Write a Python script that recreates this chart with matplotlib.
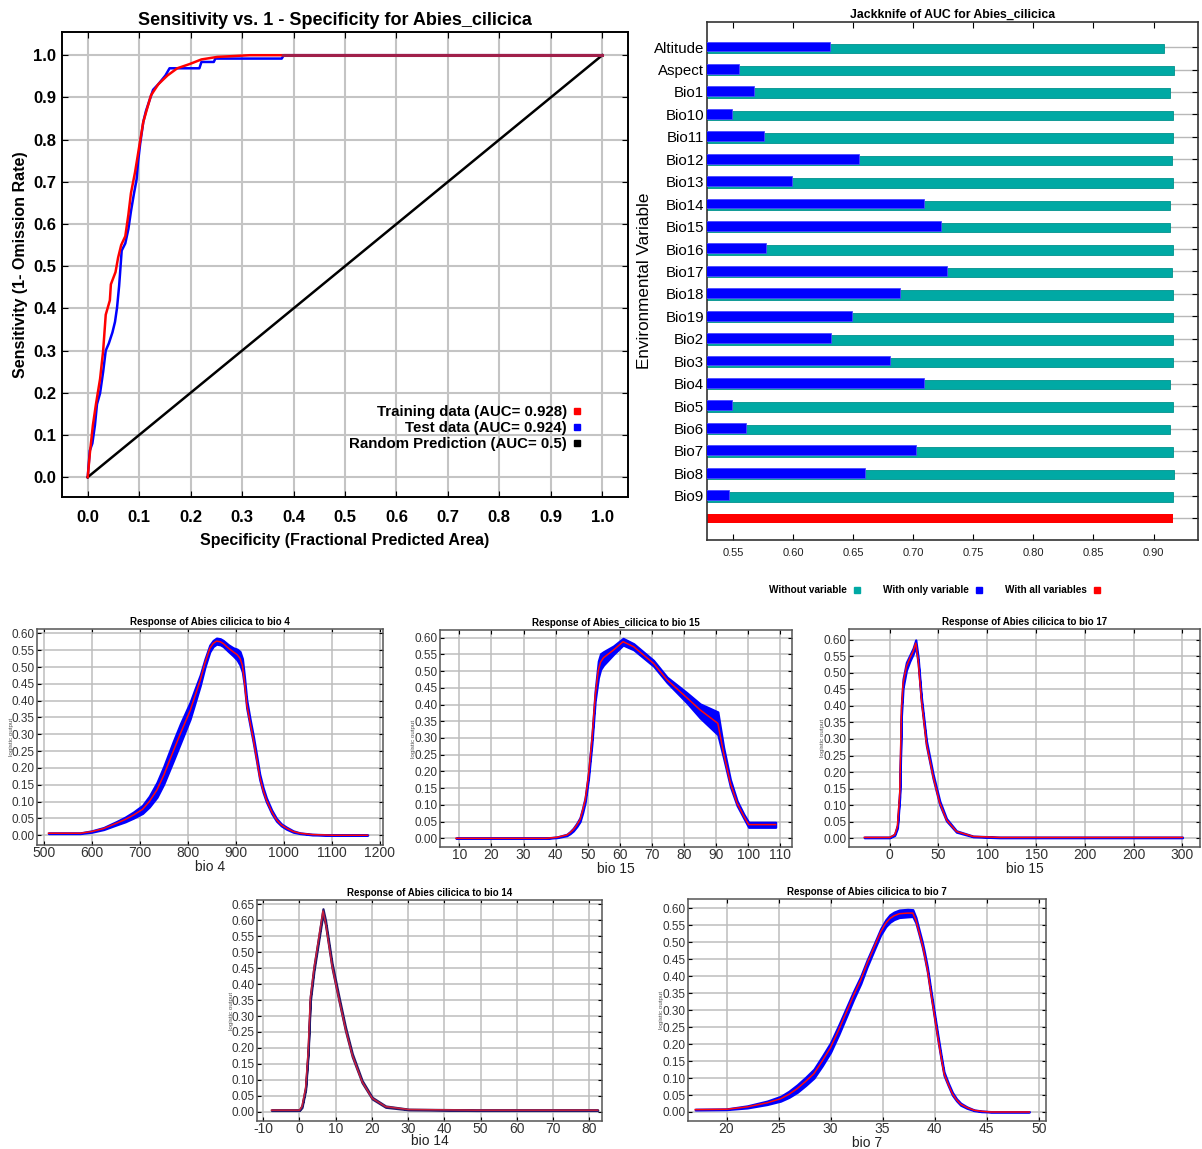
import numpy as np
import matplotlib
matplotlib.use('Agg')
import matplotlib.pyplot as plt
from matplotlib.lines import Line2D

plt.rcParams['font.family'] = ['Liberation Sans', 'DejaVu Sans']

W, H = 1202, 1149

# ROC curves (fractional predicted area, sensitivity)
train_x = [0, 0.004, 0.010, 0.016, 0.024, 0.030, 0.035, 0.043, 0.045, 0.054, 0.059, 0.065, 0.073,
           0.079, 0.084, 0.092, 0.100, 0.108, 0.116, 0.123, 0.137, 0.155, 0.174, 0.198, 0.221,
           0.252, 0.284, 0.315, 1.0]
train_y = [0, 0.055, 0.123, 0.173, 0.233, 0.300, 0.385, 0.419, 0.457, 0.486, 0.520, 0.550, 0.571,
           0.622, 0.673, 0.723, 0.783, 0.842, 0.876, 0.905, 0.931, 0.952, 0.969, 0.979, 0.990,
           0.996, 0.998, 1.0, 1.0]
test_x = [0, 0.004, 0.009, 0.014, 0.018, 0.024, 0.030, 0.035, 0.041, 0.048, 0.053, 0.057, 0.061,
          0.063, 0.066, 0.073, 0.079, 0.084, 0.090, 0.095, 0.098, 0.102, 0.108, 0.113, 0.120,
          0.127, 0.137, 0.151, 0.159, 0.174, 0.217, 0.221, 0.245, 0.248, 0.377, 0.381, 1.0]
test_y = [0, 0.063, 0.080, 0.123, 0.173, 0.199, 0.250, 0.300, 0.317, 0.343, 0.368, 0.402, 0.453,
          0.486, 0.537, 0.554, 0.588, 0.630, 0.673, 0.706, 0.749, 0.791, 0.842, 0.867, 0.893,
          0.918, 0.931, 0.952, 0.969, 0.969, 0.969, 0.984, 0.984, 0.992, 0.992, 1.0, 1.0]
auc_train, auc_test, auc_random = 0.928, 0.924, 0.5

# jackknife of AUC
variables = ['Altitude', 'Aspect', 'Bio1', 'Bio10', 'Bio11', 'Bio12', 'Bio13', 'Bio14', 'Bio15',
             'Bio16', 'Bio17', 'Bio18', 'Bio19', 'Bio2', 'Bio3', 'Bio4', 'Bio5', 'Bio6', 'Bio7',
             'Bio8', 'Bio9']
auc_without = [0.9085, 0.917, 0.914, 0.9165, 0.9165, 0.915, 0.916, 0.914, 0.914, 0.916, 0.915,
               0.916, 0.916, 0.9165, 0.9165, 0.914, 0.916, 0.914, 0.916, 0.917, 0.9165]
auc_only = [0.6305, 0.555, 0.568, 0.549, 0.576, 0.655, 0.599, 0.709, 0.723, 0.578, 0.728,
            0.689, 0.649, 0.632, 0.6805, 0.709, 0.549, 0.561, 0.702, 0.660, 0.5467]
auc_all = 0.9165

# response curves: mean and min/max band
bio4_x = [510, 576, 600, 625, 652, 670, 687, 706, 720, 736, 750, 770, 785, 805, 815, 826, 836, 846,
          853, 860, 868, 874, 885, 895, 903, 909, 914, 918, 923, 930, 937, 944, 950, 957, 964, 975,
          985, 995, 1006, 1020, 1034, 1060, 1103, 1175]
bio4_mean = [.006, .006, .011, .020, .036, .047, .060, .077, .100, .135, .178, .250, .303, .370,
             .413, .460, .512, .555, .570, .577, .575, .570, .556, .545, .537, .526, .505, .460,
             .390, .335, .283, .225, .174, .135, .105, .070, .046, .031, .021, .011, .006, .002,
             .000, .000]
bio4_lo = [.005, .005, .009, .017, .031, .040, .051, .065, .084, .113, .152, .221, .274, .345, .392,
           .444, .500, .545, .561, .568, .566, .561, .546, .533, .521, .506, .485, .446, .378, .325,
           .273, .216, .166, .128, .099, .065, .042, .028, .018, .009, .005, .001, .000, .000]
bio4_hi = [.007, .007, .013, .023, .041, .054, .069, .089, .116, .157, .204, .279, .332, .395, .434,
           .476, .524, .565, .579, .586, .584, .579, .566, .557, .553, .546, .525, .474, .402, .345,
           .293, .234, .182, .142, .111, .075, .050, .034, .024, .013, .007, .003, .001, .001]

bio15_x = [9, 37, 40.4, 43.5, 44.5, 45.5, 46.6, 47.6, 48.4, 49.2, 50.2, 51.3, 52.3, 53.3, 54.0,
           54.9, 58, 61, 64.3, 70.5, 74.7, 80.9, 85, 90.5, 92.3, 94.4, 96.5, 98.6, 100.1, 108.5]
bio15_mean = [0, 0, .003, .010, .017, .026, .040, .056, .083, .115, .185, .295, .424, .503, .527,
              .540, .563, .588, .573, .523, .474, .420, .384, .344, .255, .165, .105, .066, .041,
              .041]
bio15_lo = [0, 0, .002, .008, .014, .022, .035, .050, .076, .108, .176, .283, .410, .480, .505,
            .518, .550, .578, .564, .515, .466, .405, .360, .310, .240, .155, .098, .060, .033,
            .033]
bio15_hi = [.001, .001, .004, .012, .020, .030, .045, .062, .090, .122, .194, .307, .440, .530,
            .552, .558, .575, .598, .582, .532, .482, .435, .402, .378, .272, .176, .112, .072,
            .048, .048]

bio17_x = [-26, 0, 5.1, 7.9, 10.3, 12, 13.7, 17.1, 20.5, 24, 26.7, 29.1, 32.5, 37.6, 44.5, 51.3,
           58.2, 68.4, 85.5, 113, 300]
bio17_mean = [.002, .002, .010, .035, .136, .388, .469, .519, .544, .565, .590, .539, .418, .287,
              .186, .106, .055, .020, .005, .002, .002]
bio17_lo = [.001, .001, .008, .030, .125, .370, .455, .508, .535, .557, .580, .530, .410, .280,
            .180, .101, .052, .018, .004, .001, .001]
bio17_hi = [.003, .003, .012, .040, .148, .405, .482, .532, .553, .575, .600, .548, .426, .295,
            .193, .112, .059, .022, .006, .003, .003]

bio14_x = [-7.7, 0, 0.7, 1.7, 2.4, 3.0, 4.0, 5.3, 6.5, 7.2, 9.0, 10.9, 12.7, 14.6, 17.3, 20.1,
           23.8, 30.2, 48.7, 82.3]
bio14_mean = [.005, .005, .016, .073, .187, .354, .447, .541, .629, .593, .458, .354, .260, .177,
              .094, .042, .016, .007, .005, .005]
bio14_lo = [.004, .004, .013, .068, .180, .345, .440, .534, .620, .586, .451, .348, .254, .172,
            .091, .040, .014, .006, .004, .004]
bio14_hi = [.006, .006, .019, .078, .194, .362, .455, .548, .636, .600, .466, .361, .266, .182,
            .098, .045, .018, .008, .006, .006]

bio7_x = [17.0, 20, 22, 23.9, 25.2, 26.0, 26.8, 27.6, 28.4, 29.2, 30.0, 30.8, 31.6, 32.2, 32.9,
          33.5, 34.2, 34.8, 35.3, 35.7, 36.1, 36.6, 37.4, 37.9, 38.2, 38.5, 38.8, 39.0, 39.3, 39.6,
          39.9, 40.3, 40.6, 40.9, 41.3, 41.7, 42.1, 42.5, 43.1, 43.8, 44.5, 45.4, 49.1]
bio7_mean = [.007, .008, .015, .027, .039, .052, .069, .090, .113, .150, .190, .243, .300, .343,
             .389, .437, .487, .530, .556, .570, .578, .584, .586, .586, .565, .530, .495, .467,
             .420, .359, .300, .221, .165, .113, .082, .054, .036, .023, .013, .005, .002, .000,
             .000]
bio7_lo = [.006, .007, .012, .022, .032, .043, .058, .078, .100, .136, .176, .229, .287, .331, .378,
           .427, .478, .521, .546, .559, .567, .573, .575, .576, .557, .523, .488, .460, .413, .352,
           .293, .214, .159, .108, .078, .050, .033, .020, .011, .004, .001, .000, .000]
bio7_hi = [.008, .009, .018, .032, .046, .061, .080, .102, .126, .164, .204, .257, .313, .355, .400,
           .447, .496, .539, .566, .581, .589, .595, .597, .596, .573, .537, .502, .474, .427, .366,
           .307, .228, .171, .118, .086, .058, .039, .026, .015, .006, .003, .001, .001]


def box(l, t, r, b):
    return [l / W, 1 - b / H, (r - l) / W, (b - t) / H]


fig = plt.figure(figsize=(W / 100, H / 100), dpi=100)

# ---- ROC ----
ax = fig.add_axes(box(62, 32, 628, 497))
ax.plot(train_x, train_y, color='#ff0000', lw=1.8, zorder=3)
ax.plot(test_x, test_y, color='#0000ff', lw=1.8, zorder=2)
ax.plot([0, 1], [0, 1], color='black', lw=1.8, zorder=2)
ax.plot([0.38, 1.0], [1.0, 1.0], color='#a0204a', lw=2.2, zorder=4)
ax.set_xlim(-0.05, 1.05)
ax.set_ylim(-0.047, 1.055)
ticks = np.round(np.arange(0, 1.01, 0.1), 1)
ax.set_xticks(ticks)
ax.set_yticks(ticks)
ax.set_xticklabels(['%.1f' % t for t in ticks], fontsize=12, fontweight='bold')
ax.set_yticklabels(['%.1f' % t for t in ticks], fontsize=12, fontweight='bold')
ax.tick_params(direction='in', length=4, top=True, right=True)
ax.tick_params(axis='x', pad=9)
ax.tick_params(axis='y', pad=4)
ax.grid(True, color='#c4c4c4', lw=1.5)
ax.set_axisbelow(True)
for s in ax.spines.values():
    s.set_linewidth(1.4)
ax.set_title('Sensitivity vs. 1 - Specificity for Abies_cilicica', fontsize=13, fontweight='bold',
             pad=5, x=0.483)
ax.set_xlabel('Specificity (Fractional Predicted Area)', fontsize=11.5, fontweight='bold', labelpad=6)
ax.set_ylabel('Sensitivity (1- Omission Rate)', fontsize=11.5, fontweight='bold', labelpad=4)
handles = [Line2D([], [], ls='none', marker='s', ms=5, color=c) for c in ['#ff0000', '#0000ff', 'black']]
labels = ['Training data (AUC= %.3f)' % auc_train, 'Test data (AUC= %.3f)' % auc_test,
          'Random Prediction (AUC= %.1f)' % auc_random]
ax.legend(handles, labels, loc='center right', bbox_to_anchor=(0.945, 0.148), markerfirst=False,
          frameon=False, prop={'weight': 'bold', 'size': 10.8}, labelspacing=0.12, handletextpad=0.3,
          handlelength=0.8)

# ---- Jackknife ----
ax = fig.add_axes(box(707, 22, 1198, 540))
pos = np.arange(len(variables))
ax.barh(pos + 0.05, auc_without, height=0.42, color='#00a9a4', edgecolor='#00928c', lw=0.6, zorder=2)
ax.barh(pos - 0.03, auc_only, height=0.44, color='#0000ff', edgecolor='#4a4aff', lw=0.6, zorder=3)
ax.barh([len(variables)], [auc_all], height=0.42, color='#ff0000', zorder=2)
ax.set_xlim(0.5285, 0.937)
ax.set_ylim(len(variables) + 0.97, -1.12)
ax.set_yticks(list(pos) + [len(variables)])
ax.set_yticklabels(variables + [''], fontsize=10.8)
xt = np.arange(0.55, 0.91, 0.05)
ax.set_xticks(xt)
ax.set_xticklabels(['%.2f' % t for t in xt], fontsize=8, color='#222222')
ax.tick_params(axis='x', direction='in', length=4, top=True, pad=6)
ax.tick_params(axis='y', direction='in', length=4, right=True, pad=2)
ax.grid(True, axis='y', color='#b8b8b8', lw=1)
ax.set_axisbelow(True)
for s in ax.spines.values():
    s.set_linewidth(1.2)
    s.set_color('#333333')
ax.set_title('Jackknife of AUC for Abies_cilicica', fontsize=8.8, fontweight='bold', pad=3)
ax.set_ylabel('Environmental Variable', fontsize=12.3, labelpad=1)
jk_handles = [Line2D([], [], ls='none', marker='s', ms=4, color=c) for c in ['#00a9a4', '#0000ff', '#ff0000']]
ax.legend(jk_handles, ['Without variable', 'With only variable', 'With all variables'],
          loc='center', bbox_to_anchor=(0.464, -0.097), ncol=3, frameon=False, markerfirst=False,
          prop={'weight': 'bold', 'size': 7.2}, handletextpad=0.6, columnspacing=2.2, handlelength=0.8)


# ---- response curves ----
def response(rect, x, mean, lo, hi, title, xlabel, xlim, ylim, ytop, xticks, xlabels=None,
             band='#0000ff', line='#ff0a0a', xlpad=0):
    ax = fig.add_axes(box(*rect))
    ax.fill_between(x, lo, hi, color=band, edgecolor=band, lw=1.6, zorder=2)
    ax.plot(x, mean, color=line, lw=1.1, zorder=3)
    ax.set_xlim(*xlim)
    ax.set_ylim(*ylim)
    yt = np.round(np.arange(0, ytop + 0.001, 0.05), 2)
    ax.set_yticks(yt)
    ax.set_yticklabels(['%.2f' % t for t in yt], fontsize=8.5, color='#333333')
    ax.set_xticks(xticks)
    ax.set_xticklabels(xlabels if xlabels else [str(t) for t in xticks], fontsize=10, color='#333333')
    ax.tick_params(direction='in', length=3, top=True, right=True, pad=2)
    ax.tick_params(axis='x', pad=1)
    ax.grid(True, color='#bdbdbd', lw=1.1)
    ax.set_axisbelow(True)
    for s in ax.spines.values():
        s.set_linewidth(1.1)
        s.set_color('#555555')
    ax.set_title(title, fontsize=7, fontweight='bold', pad=3)
    ax.set_xlabel(xlabel, fontsize=10, color='#222222', labelpad=xlpad)
    ax.text(-0.075, 0.5, 'logistic output', transform=ax.transAxes, rotation=90, fontsize=4.5,
            color='#555555', ha='center', va='center')
    return ax


response((37, 629, 383, 845), bio4_x, bio4_mean, bio4_lo, bio4_hi,
         'Response of Abies cilicica to bio 4', 'bio 4', (486, 1207), (-0.029, 0.613), 0.60,
         list(range(500, 1201, 100)))
response((440, 630, 792, 847), bio15_x, bio15_mean, bio15_lo, bio15_hi,
         'Response of Abies_cilicica to bio 15', 'bio 15', (4, 113.6), (-0.026, 0.623), 0.60,
         list(range(10, 111, 10)))
response((849, 629, 1200, 847), bio17_x, bio17_mean, bio17_lo, bio17_hi,
         'Response of Abies cilicica to bio 17', 'bio 15', (-41.7, 318), (-0.027, 0.633), 0.60,
         list(range(0, 301, 50)), ['0', '50', '100', '150', '200', '200', '300'])
response((257, 900, 602, 1121), bio14_x, bio14_mean, bio14_lo, bio14_hi,
         'Response of Abies cilicica to bio 14', 'bio 14', (-11.7, 83.5), (-0.029, 0.6635), 0.65,
         list(range(-10, 81, 10)), band='#24186c', line='#c8203c', xlpad=-1.5)
response((688, 899, 1046, 1121), bio7_x, bio7_mean, bio7_lo, bio7_hi,
         'Response of Abies cilicica to bio 7', 'bio 7', (16.3, 50.7), (-0.0266, 0.6275), 0.60,
         list(range(20, 51, 5)))

fig.savefig('out.png', dpi=100, facecolor='white')
